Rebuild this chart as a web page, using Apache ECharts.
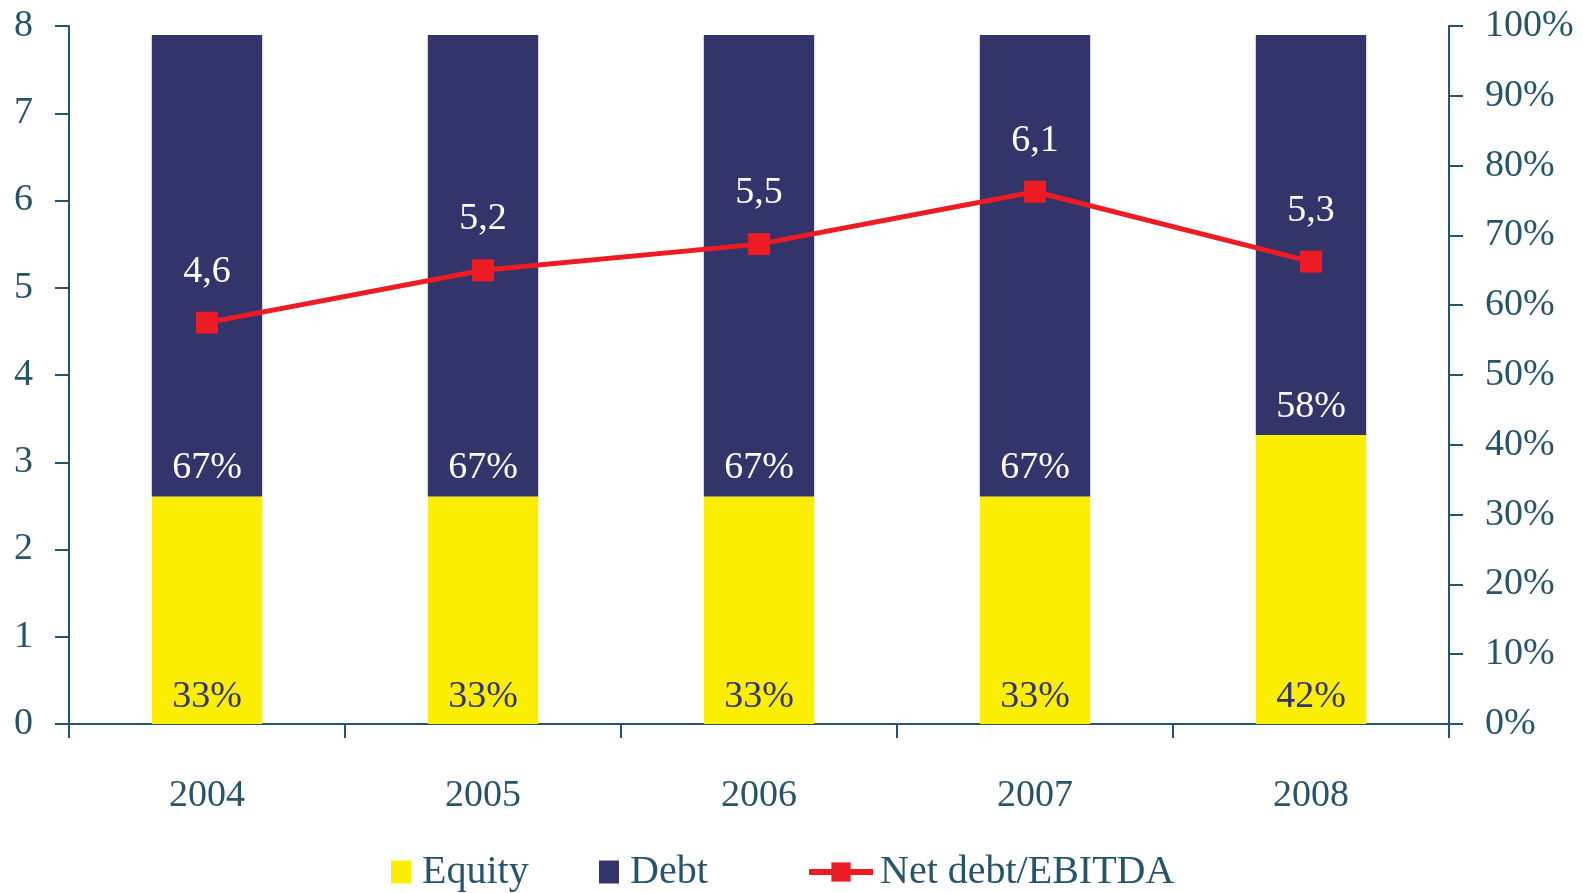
<!DOCTYPE html>
<html>
<head>
<meta charset="utf-8">
<script src="https://cdn.jsdelivr.net/npm/echarts@6/dist/echarts.min.js"></script>
<style>
  html, body { margin: 0; padding: 0; background: #fff; }
  #chart { width: 1583px; height: 893px; }
</style>
</head>
<body>
<div id="chart"></div>
<script>
const years = ['2004', '2005', '2006', '2007', '2008'];

const equity = [32.6, 32.6, 32.6, 32.6, 41.4];
const debt = [66.1, 66.1, 66.1, 66.1, 57.3];
// printed shares
const equityLabels = ['33%', '33%', '33%', '33%', '42%'];
const debtLabels = ['67%', '67%', '67%', '67%', '58%'];

const netDebtEbitda = [4.6, 5.2, 5.5, 6.1, 5.3];

const leftTicks = [0, 1, 2, 3, 4, 5, 6, 7, 8];
const rightTicks = [0, 10, 20, 30, 40, 50, 60, 70, 80, 90, 100];

const FONT = '"Liberation Serif", "DejaVu Serif", serif';
const AXIS = '#285469';
const YELLOW = '#FCEE00';
const NAVY = '#32346A';
const RED = '#ED1C24';

const chart = echarts.init(document.getElementById('chart'));

const axisCommon = {
  axisLine: { show: true, lineStyle: { color: AXIS, width: 2 } },
  axisTick: { show: true, inside: false, length: 14, lineStyle: { color: AXIS, width: 2 } },
  splitLine: { show: false },
};

const legendText = { fontFamily: FONT, fontSize: 40, color: AXIS, padding: [0, 0, 0, 6] };

const option = {
  animation: false,
  backgroundColor: '#fff',
  grid: { left: 69, right: 134, top: 26, bottom: 169 },
  legend: [
    { data: ['Equity'], left: 386, top: 847, icon: 'rect', itemWidth: 20, itemHeight: 23, textStyle: legendText },
    { data: ['Debt'], left: 594, top: 847, icon: 'rect', itemWidth: 20, itemHeight: 23, textStyle: legendText },
    {
      data: ['Net debt/EBITDA'], left: 801, top: 847, itemWidth: 64, itemHeight: 24,
      lineStyle: { width: 6 },
      textStyle: { ...legendText, padding: [0, 0, 0, 2] },
    },
  ],
  xAxis: {
    type: 'category',
    data: years,
    ...axisCommon,
    axisTick: { show: true, length: 14, alignWithLabel: false, lineStyle: { color: AXIS, width: 2 } },
    axisLabel: { fontFamily: FONT, fontSize: 38, color: AXIS, margin: 53 },
  },
  yAxis: [
    {
      type: 'value',
      min: leftTicks[0],
      max: leftTicks[leftTicks.length - 1],
      interval: 1,
      ...axisCommon,
      axisLabel: { fontFamily: FONT, fontSize: 38, color: AXIS, margin: 36 },
    },
    {
      type: 'value',
      min: rightTicks[0],
      max: rightTicks[rightTicks.length - 1],
      interval: 10,
      position: 'right',
      ...axisCommon,
      axisLabel: { fontFamily: FONT, fontSize: 38, color: AXIS, margin: 36, formatter: '{value}%' },
    },
  ],
  series: [
    {
      name: 'Equity',
      type: 'bar',
      stack: 'share',
      yAxisIndex: 1,
      barWidth: '40%',
      data: equity,
      itemStyle: { color: YELLOW },
      label: {
        show: true,
        position: 'insideBottom',
        distance: 8,
        fontFamily: FONT,
        fontSize: 38,
        color: NAVY,
        formatter: p => equityLabels[p.dataIndex],
      },
    },
    {
      name: 'Debt',
      type: 'bar',
      stack: 'share',
      yAxisIndex: 1,
      barWidth: '40%',
      data: debt,
      itemStyle: { color: NAVY },
      label: {
        show: true,
        position: 'insideBottom',
        distance: 9,
        fontFamily: FONT,
        fontSize: 38,
        color: '#fff',
        formatter: p => debtLabels[p.dataIndex],
      },
    },
    {
      name: 'Net debt/EBITDA',
      type: 'line',
      yAxisIndex: 0,
      data: netDebtEbitda,
      z: 10,
      symbol: 'rect',
      symbolSize: 22,
      lineStyle: { color: RED, width: 5 },
      itemStyle: { color: RED },
      label: {
        show: true,
        position: 'top',
        distance: 21,
        fontFamily: FONT,
        fontSize: 38,
        color: '#fff',
        formatter: p => String(p.value).replace('.', ','),
      },
    },
  ],
};

chart.setOption(option);
</script>
</body>
</html>
